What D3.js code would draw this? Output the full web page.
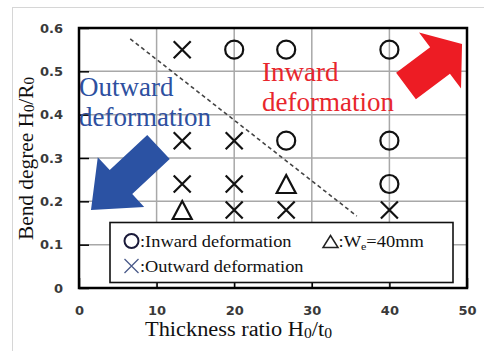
<!DOCTYPE html>
<html>
<head>
<meta charset="utf-8">
<script src="https://cdn.jsdelivr.net/npm/d3@7"></script>
<style>
  body { margin: 0; background: #fff; }
  svg { display: block; }
</style>
</head>
<body>
<svg id="chart" width="484" height="351"></svg>
<script>
// Axis ticks
const xTicks = [0, 10, 20, 30, 40, 50];
const yTicks = [0, 0.1, 0.2, 0.3, 0.4, 0.5, 0.6];

// Test results: thickness ratio H0/t0 vs bend degree H0/R0
const inwardPts  = [[20, 0.55], [26.7, 0.55], [40, 0.55], [26.7, 0.34], [40, 0.34], [40, 0.24]];
const outwardPts = [[13.3, 0.55], [13.3, 0.34], [20, 0.34], [13.3, 0.24], [20, 0.24], [20, 0.18], [26.7, 0.18], [40, 0.18]];
const we40Pts    = [[26.7, 0.24], [13.3, 0.18]];

// Boundary between the two deformation modes
const boundary = [[6.6, 0.575], [35.8, 0.166]];

const svg = d3.select("#chart");
const plot = { left: 79, right: 467, top: 28, bottom: 288 };

const x = d3.scaleLinear().domain([0, 50]).range([plot.left, plot.right]);
const y = d3.scaleLinear().domain([0, 0.6]).range([plot.bottom, plot.top]);

// light outer frame
svg.append("rect")
  .attr("x", 12.5).attr("y", 7.5).attr("width", 490).attr("height", 360)
  .attr("fill", "none").attr("stroke", "#d6d6d6").attr("stroke-width", 1);

// grid
const grid = svg.append("g").attr("stroke", "#a8a8a8").attr("stroke-width", 1.5);
grid.selectAll("line.v").data(xTicks.slice(1, -1)).join("line")
  .attr("x1", d => x(d)).attr("x2", d => x(d))
  .attr("y1", plot.top).attr("y2", plot.bottom);
grid.selectAll("line.h").data(yTicks.slice(1, -1)).join("line")
  .attr("x1", plot.left).attr("x2", plot.right)
  .attr("y1", d => y(d)).attr("y2", d => y(d));

// axes with inward ticks
const tickFont = "'DejaVu Sans', sans-serif";
const yAxis = svg.append("g")
  .attr("transform", `translate(${plot.left},0)`)
  .call(d3.axisLeft(y).tickValues(yTicks).tickSize(-10).tickPadding(16)
        .tickFormat(d => d === 0 ? "0" : d.toFixed(1)));
const xAxis = svg.append("g")
  .attr("transform", `translate(0,${plot.bottom})`)
  .call(d3.axisBottom(x).tickValues(xTicks).tickSize(-10).tickPadding(18));
[xAxis, yAxis].forEach(a => {
  a.select(".domain").remove();
  a.selectAll(".tick line").attr("stroke", "#000").attr("stroke-width", 1.5);
  a.selectAll(".tick text")
    .attr("font-family", tickFont).attr("font-weight", "bold")
    .attr("font-size", 13).attr("fill", "#3a3a3a");
});

// mode boundary
svg.append("line")
  .attr("x1", x(boundary[0][0])).attr("y1", y(boundary[0][1]))
  .attr("x2", x(boundary[1][0])).attr("y2", y(boundary[1][1]))
  .attr("stroke", "#444").attr("stroke-width", 1.6)
  .attr("stroke-dasharray", "4,3");

// markers
const markStroke = "#111";
svg.append("g").selectAll("circle").data(inwardPts).join("circle")
  .attr("cx", d => x(d[0])).attr("cy", d => y(d[1])).attr("r", 9)
  .attr("fill", "none").attr("stroke", markStroke).attr("stroke-width", 2.2);

const cross = s => `M${-s},${-s}L${s},${s}M${s},${-s}L${-s},${s}`;
svg.append("g").selectAll("path").data(outwardPts).join("path")
  .attr("transform", d => `translate(${x(d[0])},${y(d[1])})`)
  .attr("d", cross(8.5))
  .attr("fill", "none").attr("stroke", markStroke).attr("stroke-width", 2.2);

const tri = (w, h) => `M0,${-h}L${w},${h}L${-w},${h}Z`;
svg.append("g").selectAll("path").data(we40Pts).join("path")
  .attr("transform", d => `translate(${x(d[0])},${y(d[1])})`)
  .attr("d", tri(9.5, 9))
  .attr("fill", "none").attr("stroke", markStroke).attr("stroke-width", 2.2)
  .attr("stroke-linejoin", "miter");

// block arrows showing deformation direction
function arrowPath(tail, tip, shaftHalf, headHalf, headLen) {
  const t = [x(tail[0]), y(tail[1])], p = [x(tip[0]), y(tip[1])];
  const dx = p[0] - t[0], dy = p[1] - t[1], len = Math.hypot(dx, dy);
  const u = [dx / len, dy / len], n = [-u[1], u[0]];
  const b = [p[0] - u[0] * headLen, p[1] - u[1] * headLen];
  const pt = (o, k) => [o[0] + n[0] * k, o[1] + n[1] * k];
  const pts = [pt(t, shaftHalf), pt(b, shaftHalf), pt(b, headHalf), p,
               pt(b, -headHalf), pt(b, -shaftHalf), pt(t, -shaftHalf)];
  return d3.line()(pts) + "Z";
}
svg.append("path")
  .attr("d", arrowPath([10.245, 0.3254], [1.546, 0.18], 16.5, 34, 41))
  .attr("fill", "#2b52a3");
svg.append("path")
  .attr("d", arrowPath([42.14, 0.4662], [49.36, 0.5631], 16.5, 35, 27.5))
  .attr("fill", "#ed1c24");

// region labels
const serif = "'Liberation Serif', 'Times New Roman', serif";
const outLbl = svg.append("text").attr("font-family", serif).attr("font-size", 27).attr("fill", "#2e50a0");
outLbl.append("tspan").attr("x", 79).attr("y", 96).text("Outward");
outLbl.append("tspan").attr("x", 79).attr("y", 126).text("deformation");
const inLbl = svg.append("text").attr("font-family", serif).attr("font-size", 27).attr("fill", "#e8262c");
inLbl.append("tspan").attr("x", 262).attr("y", 81).text("Inward");
inLbl.append("tspan").attr("x", 262).attr("y", 110.5).text("deformation");

// legend
const lg = svg.append("g");
lg.append("rect")
  .attr("x", 110).attr("y", 222.5).attr("width", 343).attr("height", 60)
  .attr("fill", "#fff").attr("stroke", "#111").attr("stroke-width", 1.6);
lg.append("circle").attr("cx", 131.5).attr("cy", 241).attr("r", 7)
  .attr("fill", "none").attr("stroke", "#1a1a3a").attr("stroke-width", 2);
lg.append("path").attr("transform", "translate(131.5,266)").attr("d", cross(7))
  .attr("fill", "none").attr("stroke", "#4a5a8a").attr("stroke-width", 1.3);
lg.append("path").attr("transform", "translate(330.5,241.5)").attr("d", tri(7.5, 6))
  .attr("fill", "none").attr("stroke", "#222").attr("stroke-width", 1.5);
const legText = (tx, ty, w) => lg.append("text")
  .attr("x", tx).attr("y", ty).attr("font-family", serif).attr("font-size", 17)
  .attr("fill", "#111").attr("textLength", w).attr("lengthAdjust", "spacingAndGlyphs");
legText(140, 246.5, 151.5).text(":Inward deformation");
legText(140, 271.5, 163.5).text(":Outward deformation");
const we = legText(338.5, 246.5, 85.5);
we.append("tspan").text(":W");
we.append("tspan").attr("font-size", 11).attr("dy", 3).text("e");
we.append("tspan").attr("dy", -3).text("=40mm");

// plot border
svg.append("rect")
  .attr("x", plot.left).attr("y", plot.top)
  .attr("width", plot.right - plot.left).attr("height", plot.bottom - plot.top)
  .attr("fill", "none").attr("stroke", "#000").attr("stroke-width", 2.5);

// axis titles
const xt = svg.append("text")
  .attr("x", 145).attr("y", 336).attr("font-family", serif).attr("font-size", 20)
  .attr("fill", "#111").attr("textLength", 187).attr("lengthAdjust", "spacingAndGlyphs");
xt.append("tspan").text("Thickness ratio H");
xt.append("tspan").attr("font-size", 14).attr("dy", 1.5).text("0");
xt.append("tspan").attr("dy", -1.5).text("/t");
xt.append("tspan").attr("font-size", 14).attr("dy", 1.5).text("0");

const yt = svg.append("text")
  .attr("transform", "translate(32.5,240) rotate(-90)")
  .attr("font-family", serif).attr("font-size", 20).attr("fill", "#111")
  .attr("textLength", 163).attr("lengthAdjust", "spacingAndGlyphs");
yt.append("tspan").text("Bend degree H");
yt.append("tspan").attr("font-size", 14).attr("dy", 1.5).text("0");
yt.append("tspan").attr("dy", -1.5).text("/R");
yt.append("tspan").attr("font-size", 14).attr("dy", 1.5).text("0");
</script>
</body>
</html>
